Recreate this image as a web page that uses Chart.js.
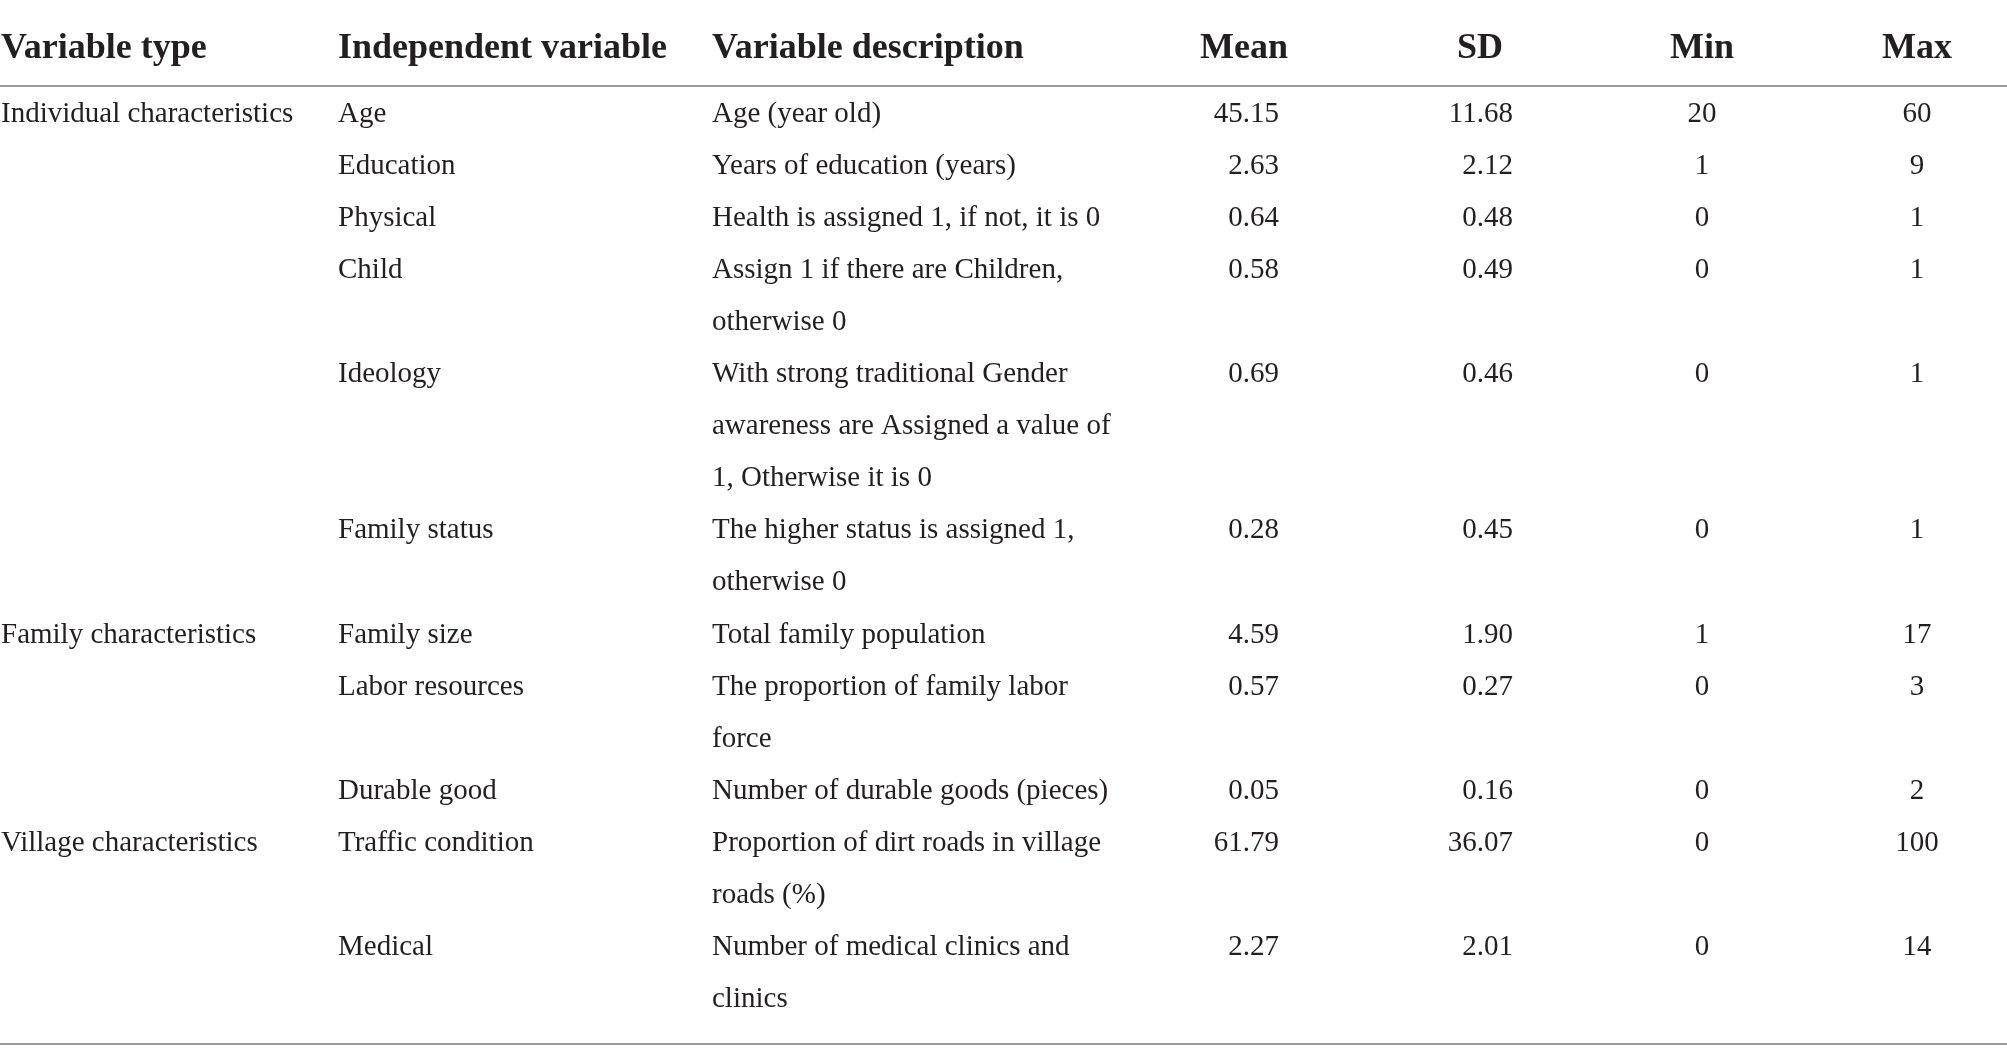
<!DOCTYPE html>
<html>
<head>
<meta charset="utf-8">
<script src="https://cdn.jsdelivr.net/npm/chart.js@4"></script>
<style>
  html, body { margin: 0; padding: 0; background: #fff; }
  #wrap { width: 2007px; height: 1058px; position: relative; }
</style>
</head>
<body>
<div id="wrap"><canvas id="table-chart"></canvas></div>
<script>
// Table content
const headers = ['Variable type', 'Independent variable', 'Variable description', 'Mean', 'SD', 'Min', 'Max'];
const variableTypes = ['Individual characteristics', 'Family characteristics', 'Village characteristics'];
const typeFirstVariable = [0, 6, 9];
const variables = ['Age', 'Education', 'Physical', 'Child', 'Ideology', 'Family status',
    'Family size', 'Labor resources', 'Durable good', 'Traffic condition', 'Medical'];
const descriptions = [
    ['Age (year old)'],
    ['Years of education (years)'],
    ['Health is assigned 1, if not, it is 0'],
    ['Assign 1 if there are Children,', 'otherwise 0'],
    ['With strong traditional Gender', 'awareness are Assigned a value of', '1, Otherwise it is 0'],
    ['The higher status is assigned 1,', 'otherwise 0'],
    ['Total family population'],
    ['The proportion of family labor', 'force'],
    ['Number of durable goods (pieces)'],
    ['Proportion of dirt roads in village', 'roads (%)'],
    ['Number of medical clinics and', 'clinics']
];
const means = [45.15, 2.63, 0.64, 0.58, 0.69, 0.28, 4.59, 0.57, 0.05, 61.79, 2.27];
const sds = [11.68, 2.12, 0.48, 0.49, 0.46, 0.45, 1.90, 0.27, 0.16, 36.07, 2.01];
const mins = [20, 1, 0, 0, 0, 0, 1, 0, 0, 0, 0];
const maxs = [60, 9, 1, 1, 1, 1, 17, 3, 2, 100, 14];

// Layout (x in pixels, y in text-line units)
const columns = [
    { x: 1, align: 'left' },
    { x: 338, align: 'left' },
    { x: 712, align: 'left' },
    { x: 1279, align: 'right', hx: 1244 },
    { x: 1513, align: 'right', hx: 1480 },
    { x: 1702, align: 'center' },
    { x: 1917, align: 'center' }
];
const LINE_H = 52.1;
const FIRST_BASELINE = 121.5;
const HEADER_LINE = -1.228;
const RULES = [-0.681, 17.697];
const BODY_FONT = '29px "Liberation Serif", "Times New Roman", serif';
const HEAD_FONT = 'bold 36px "Liberation Serif", "Times New Roman", serif';
const TEXT_COLOR = '#231f20';

// first text line of each variable
const startLine = [];
let line = 0;
descriptions.forEach(d => { startLine.push(line); line += d.length; });

function column(k, values, fmt) {
    return {
        data: values.map((v, i) => ({ x: columns[k].x, y: startLine[i] })),
        labels: values.map(fmt),
        align: columns[k].align,
        font: BODY_FONT
    };
}

const descPoints = [];
const descLabels = [];
descriptions.forEach((d, i) => d.forEach((txt, j) => {
    descPoints.push({ x: columns[2].x, y: startLine[i] + j });
    descLabels.push(txt);
}));

const datasets = [
    {
        data: headers.map((h, k) => ({ x: columns[k].hx || columns[k].x, y: HEADER_LINE })),
        labels: headers,
        align: columns.map(c => c.hx ? 'center' : c.align),
        font: HEAD_FONT
    },
    {
        data: variableTypes.map((t, g) => ({ x: columns[0].x, y: startLine[typeFirstVariable[g]] })),
        labels: variableTypes,
        align: 'left',
        font: BODY_FONT
    },
    column(1, variables, v => v),
    { data: descPoints, labels: descLabels, align: 'left', font: BODY_FONT },
    column(3, means, v => v.toFixed(2)),
    column(4, sds, v => v.toFixed(2)),
    column(5, mins, v => String(v)),
    column(6, maxs, v => String(v))
];
datasets.forEach(ds => { ds.pointRadius = 0; ds.pointHoverRadius = 0; });

const tableText = {
    id: 'tableText',
    afterDatasetsDraw(chart) {
        const ctx = chart.ctx;
        const y = chart.scales.y;
        ctx.save();
        // horizontal rules
        ctx.strokeStyle = '#9b9b9b';
        ctx.lineWidth = 2;
        RULES.forEach(r => {
            const py = Math.round(y.getPixelForValue(r));
            ctx.beginPath();
            ctx.moveTo(0, py);
            ctx.lineTo(chart.width, py);
            ctx.stroke();
        });
        // cell text
        ctx.fillStyle = TEXT_COLOR;
        ctx.textBaseline = 'alphabetic';
        chart.data.datasets.forEach((ds, i) => {
            const meta = chart.getDatasetMeta(i);
            ctx.font = ds.font;
            meta.data.forEach((pt, j) => {
                ctx.textAlign = Array.isArray(ds.align) ? ds.align[j] : ds.align;
                ctx.fillText(ds.labels[j], pt.x, pt.y);
            });
        });
        ctx.restore();
    }
};

new Chart(document.getElementById('table-chart'), {
    type: 'scatter',
    data: { datasets: datasets },
    options: {
        responsive: true,
        maintainAspectRatio: false,
        animation: false,
        events: [],
        layout: { padding: 0 },
        plugins: { legend: { display: false }, tooltip: { enabled: false } },
        scales: {
            x: { type: 'linear', min: 0, max: 2007, display: false },
            y: {
                type: 'linear',
                min: -FIRST_BASELINE / LINE_H,
                max: (1058 - FIRST_BASELINE) / LINE_H,
                reverse: true,
                display: false
            }
        }
    },
    plugins: [tableText]
});
</script>
</body>
</html>
